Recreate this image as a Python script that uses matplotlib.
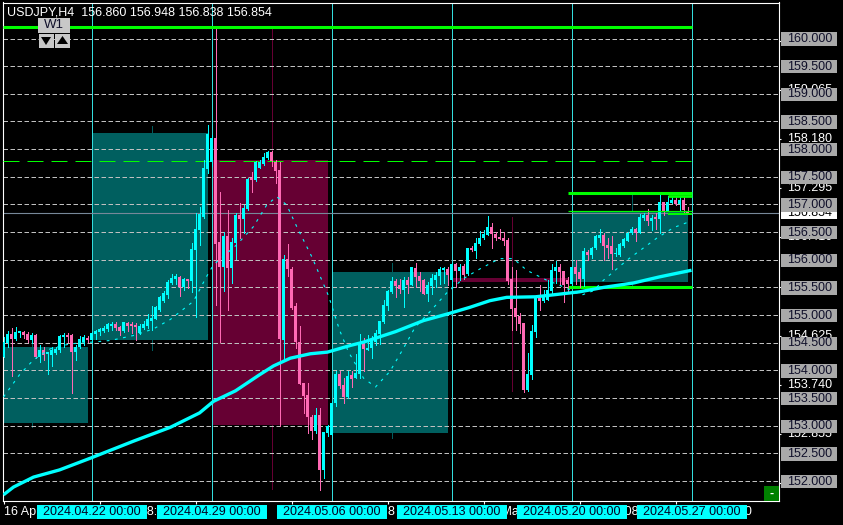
import matplotlib
matplotlib.use("Agg")
import matplotlib.pyplot as plt
from matplotlib.patches import Rectangle, Polygon

plt.rcParams['font.family'] = ['Liberation Sans', 'DejaVu Sans']

# H4 candles, one row per bar
opens = [154.25,154.49,154.66,154.57,154.68,154.70,154.66,154.55,154.64,154.25,154.37,154.30,154.28,154.31,154.36,154.60,154.64,154.64,154.33,154.42,154.52,154.58,
         154.54,154.66,154.70,154.72,154.75,154.81,154.83,154.78,154.72,154.86,154.82,154.80,154.67,154.77,154.81,154.89,154.93,155.10,155.25,155.37,155.58,155.66,155.69,155.50,155.65,155.61,156.17,156.54,156.78,157.64,
         157.76,158.20,156.32,155.87,156.43,155.85,156.31,156.81,156.73,156.92,157.46,157.44,157.66,157.73,157.84,157.94,157.77,157.62,154.55,156.02,155.84,155.16,154.52,153.77,153.56,153.16,152.91,153.20,152.19,152.87,
         152.84,153.41,153.93,153.74,153.51,153.92,153.86,153.93,154.49,154.37,154.40,154.52,154.66,154.88,155.16,155.42,155.61,155.54,155.45,155.63,155.55,155.85,155.70,155.63,155.38,155.52,155.64,155.70,155.82,155.83,
         155.63,155.93,155.80,155.89,155.74,156.22,156.16,156.28,156.39,156.45,156.60,156.47,156.41,156.39,156.36,155.65,155.12,154.99,154.85,153.64,153.92,154.69,155.33,155.25,155.27,155.44,155.80,155.86,155.79,155.63,
         155.57,155.86,155.78,155.66,156.14,156.08,156.22,156.40,156.45,156.27,156.25,156.10,156.08,156.25,156.34,156.48,156.55,156.48,156.76,156.81,156.70,156.75,156.73,157.04,156.89,157.03,157.08,157.01,157.08,156.860]
highs = [154.60,154.72,154.77,154.78,154.72,154.72,154.69,154.68,154.65,154.45,154.42,154.34,154.42,154.42,154.64,154.67,154.67,154.65,154.46,154.63,154.64,154.63,
         154.69,154.73,154.77,154.80,154.86,154.87,154.87,154.81,154.88,154.88,154.88,154.86,154.83,154.89,155.01,155.17,155.17,155.35,155.43,155.63,155.74,155.74,155.70,155.67,155.66,156.30,156.84,156.95,157.80,158.43,
         158.25,160.17,157.23,156.51,156.90,156.39,156.84,157.02,156.99,157.47,157.59,157.78,157.80,157.93,157.97,157.97,157.81,157.76,156.08,156.28,155.87,155.22,154.80,153.78,153.77,153.20,153.32,153.32,152.89,153.02,
         153.44,153.99,153.99,153.86,153.98,153.98,154.30,154.66,154.58,154.64,154.62,154.73,154.90,155.27,155.45,155.68,155.66,155.66,155.68,155.69,155.87,155.95,155.78,155.66,155.60,155.75,155.78,155.87,155.87,155.87,
         155.95,155.95,155.93,155.92,156.22,156.25,156.39,156.52,156.54,156.79,156.66,156.51,156.55,156.51,156.39,155.87,155.81,155.03,154.85,154.31,154.82,155.33,155.54,155.45,155.63,155.93,155.98,155.93,155.80,155.68,
         155.87,155.99,155.85,156.22,156.17,156.23,156.45,156.55,156.49,156.39,156.43,156.22,156.30,156.39,156.51,156.60,156.57,156.83,156.84,156.91,156.81,156.84,157.17,157.05,157.15,157.15,157.14,157.14,157.14,156.948]
lows = [154.25,154.42,153.89,154.55,154.60,154.58,154.52,154.49,154.22,154.16,154.19,153.94,154.07,154.30,154.34,154.42,154.52,153.59,154.19,154.40,154.45,154.52,
        154.52,154.57,154.64,154.69,154.72,154.73,154.73,154.64,154.70,154.72,154.68,154.54,154.66,154.75,154.77,154.73,154.92,155.08,155.23,155.31,155.57,155.57,155.35,155.46,155.49,155.42,154.96,156.27,156.75,157.57,
        157.70,155.19,154.51,155.43,155.10,155.58,156.02,156.39,156.48,156.90,157.23,157.43,157.65,157.71,157.83,157.70,157.38,153.00,154.20,155.70,155.11,154.40,153.76,153.23,152.87,152.75,152.87,151.84,152.05,152.81,
        152.84,153.35,153.68,153.41,153.50,153.70,153.86,153.86,153.98,154.37,154.22,154.46,154.48,154.85,155.10,155.39,155.33,155.39,155.15,155.40,155.54,155.51,155.44,155.38,155.25,155.38,155.50,155.57,155.58,155.54,
        155.50,155.50,155.63,155.66,155.73,156.16,156.04,156.27,156.37,156.45,156.22,156.36,156.37,156.27,155.57,154.73,154.73,154.68,153.60,153.63,153.84,154.61,155.09,155.24,155.27,155.39,155.58,155.54,155.24,155.42,
        155.54,155.57,155.51,155.52,156.00,156.04,156.20,156.32,156.00,156.04,155.84,156.07,156.07,156.23,156.33,156.46,156.34,156.48,156.72,156.63,156.54,156.55,156.49,156.81,156.88,157.02,156.99,156.90,156.85,156.838]
closes = [154.51,154.66,154.57,154.70,154.70,154.64,154.55,154.64,154.25,154.37,154.28,154.31,154.37,154.39,154.62,154.64,154.60,154.33,154.42,154.57,154.60,154.55,
          154.67,154.72,154.75,154.77,154.83,154.84,154.77,154.72,154.87,154.81,154.81,154.79,154.81,154.84,154.92,154.95,155.14,155.32,155.40,155.60,155.67,155.70,155.50,155.66,155.61,156.20,156.55,156.83,157.66,158.28,
          158.20,156.28,155.87,156.43,155.85,156.32,156.81,156.73,156.94,157.46,157.45,157.76,157.76,157.85,157.94,157.78,157.60,154.57,156.02,155.84,155.13,154.52,153.76,153.54,153.16,152.91,153.20,152.19,152.89,153.00,
          153.41,153.93,153.72,153.51,153.90,153.84,153.95,154.49,154.39,154.41,154.55,154.68,154.90,155.18,155.44,155.61,155.52,155.47,155.63,155.55,155.86,155.69,155.61,155.38,155.54,155.67,155.72,155.83,155.83,155.73,
          155.93,155.80,155.87,155.73,156.22,156.17,156.30,156.40,156.46,156.60,156.46,156.39,156.37,156.34,155.62,155.11,154.97,154.84,153.64,153.93,154.71,155.30,155.26,155.36,155.45,155.81,155.86,155.78,155.54,155.57,
          155.86,155.75,155.66,156.15,156.08,156.22,156.43,156.45,156.25,156.22,156.11,156.13,156.28,156.37,156.49,156.55,156.49,156.77,156.81,156.70,156.75,156.74,157.04,156.88,157.04,157.08,157.01,157.08,156.90,156.854]

# W1 candles behind the H4 ones
week_start = [-8, 22, 52, 82, 112, 142]
week_open = [153.05, 154.55, 157.80, 152.87, 155.67, 155.60]
week_close = [154.43, 158.29, 153.01, 155.77, 155.60, 156.86]
week_high = [154.62, 158.42, 160.17, 155.94, 156.78, 157.17]
week_low = [152.98, 154.37, 151.86, 152.77, 153.62, 155.50]

# moving averages, sampled by bar
ma_bars = [0,2.5,7.5,14,22,32.5,41.7,49,52.5,58,64,67.5,71.7,76.7,81,86.7,90,98,105,111,116.6,121.6,125.8,133,138,144,150,157.5,164,172]
ma_vals = [151.75,151.89,152.07,152.20,152.42,152.72,152.97,153.23,153.44,153.63,153.92,154.08,154.22,154.30,154.33,154.45,154.51,154.70,154.90,155.02,155.14,155.26,155.32,155.33,155.37,155.42,155.50,155.58,155.69,155.81]
fast_bars = [0,4,7.5,11.7,16.7,22,26.7,32.5,37.5,41.7,47.5,50.8,52.5,58.3,62.5,65.8,68.3,70.8,73.3,77.1,81.3,84,86.2,90,93,96.6,100,102.9,106.6,110.8,115,119,124,127.5,130.8,135.8,139,144.5,147.5,150,156,163.3,167.5,170.8]
fast_vals = [153.52,153.92,154.19,154.39,154.48,154.51,154.54,154.63,154.75,154.92,155.25,155.70,155.91,156.27,156.60,156.99,157.14,156.99,156.60,156.05,155.34,154.73,154.34,153.86,153.70,153.98,154.40,154.78,155.06,155.40,155.66,155.83,156.02,156.02,155.81,155.63,155.54,155.36,155.44,155.63,156.00,156.39,156.58,156.67]

grid_levels = [160.0,159.5,159.0,158.5,158.0,157.5,157.0,156.5,156.0,155.5,155.0,154.5,154.0,153.5,153.0,152.5,152.0]
scale_ticks = [159.950,159.065,158.180,157.295,156.410,155.510,154.625,153.740,152.855,151.970]
bid = 156.854

sep_bars = [22, 52, 82, 112, 142, 172]
sep_labels = ["2024.04.22 00:00","2024.04.29 00:00","2024.05.06 00:00","2024.05.13 00:00","2024.05.20 00:00","2024.05.27 00:00"]
time_bars = [0, 24, 48, 72, 96, 120, 144, 168]
time_labels = ["16 Apr 2024","22 Apr 08:00","26 Apr 08:00","2 May 08:00","8 May 08:00","14 May 08:00","20 May 08:00","24 May 08:00"]

UP = "#00FFFF"
DOWN = "#FF69B4"
TEAL = "#005F5F"
WINE = "#660033"
GREEN = "#00FF00"
THIN = 0.6  # non antialiased, comes out one pixel wide
W, H = 843, 525

fig = plt.figure(figsize=(W / 100, H / 100), dpi=100, facecolor="black")
L, R, T, B = 2.7, 779.0, 2.5, 501.0
ax = fig.add_axes([L / W, 1 - B / H, (R - L) / W, (B - T) / H], facecolor="black")
ax.set_xlim(-0.2, 193.875)
ax.set_ylim(151.638, 160.651)

def ax_x(px):
    return (px - L) / (R - L)

def ax_y(px):
    return (B - px) / (B - T)

def fig_xy(x, y):
    return x / W, 1 - y / H

# weekly boxes
for s, o, c, h, l in zip(week_start, week_open, week_close, week_high, week_low):
    col = TEAL if c > o else WINE
    ax.add_patch(Rectangle((s, min(o, c)), 29, abs(c - o), facecolor=col, edgecolor="none", zorder=1))
    ax.vlines(s + 15, l, h, color=col, lw=THIN, zorder=1, antialiased=False)

# grid
ax.hlines(grid_levels, -0.2, 193.875, color="#C0C0C0", lw=0.72, linestyles=(0, (4.5, 2.5)), zorder=2)
ax.vlines(sep_bars, 151.638, 160.651, color="#33DDDD", lw=THIN, zorder=2, antialiased=False)
ax.axhline(bid, color="#778899", lw=0.8, zorder=2)

# levels
ax.hlines(160.2, -0.2, 172, color=GREEN, lw=2.2, zorder=3)
ax.hlines(157.79, -0.2, 172, color=GREEN, lw=0.72, linestyles=(0, (16, 8)), zorder=3)
ax.hlines(157.2, 141, 172, color=GREEN, lw=2.2, zorder=6)
ax.hlines(156.89, 141, 172, color=GREEN, lw=0.9, zorder=6)
ax.hlines(155.5, 141, 172, color=GREEN, lw=2.2, zorder=3)
ax.hlines(157.15, 166, 172, color=GREEN, lw=2.0, zorder=6)
ax.hlines(156.83, 166, 172, color=GREEN, lw=1.4, zorder=6)

# candles
for i, (o, h, l, c) in enumerate(zip(opens, highs, lows, closes)):
    col = UP if c >= o else DOWN
    ax.vlines(i, l, h, color=col, lw=THIN, zorder=4, antialiased=False)
    ax.bar(i, max(abs(c - o), 0.025), bottom=min(o, c), width=0.8, color=col, linewidth=0, zorder=4, antialiased=False)

ax.plot(fast_bars, fast_vals, color=UP, lw=0.8, linestyle=(0, (2.5, 5)), zorder=5)
ax.plot(ma_bars, ma_vals, color=UP, lw=2.4, zorder=5, solid_capstyle="butt")

# frame and ticks
for sp in ax.spines.values():
    sp.set_color("white")
    sp.set_linewidth(0.8)
ax.yaxis.tick_right()
ax.set_yticks(scale_ticks)
ax.set_yticklabels([])
ax.set_xticks(time_bars)
ax.set_xticklabels([])
ax.tick_params(axis="y", colors="white", length=1.5, width=0.8)
ax.tick_params(axis="x", colors="white", length=2.5, width=0.8)

# price scale
ytr = ax.get_yaxis_transform()
for p in scale_ticks:
    ax.text(ax_x(787), p, f"{p:.3f}", transform=ytr, color="white", fontsize=9, va="center", ha="left", clip_on=False, zorder=10)
box_h = 13.4 / 55.31
ax.add_patch(Rectangle((ax_x(781), bid - box_h / 2), ax_x(837) - ax_x(781), box_h, transform=ytr, facecolor="white", edgecolor="none", clip_on=False, zorder=11))
ax.text(ax_x(787), bid, f"{bid:.3f}", transform=ytr, color="black", fontsize=9, va="center", ha="left", clip_on=False, zorder=12)
for p in grid_levels:
    ax.add_patch(Rectangle((ax_x(781), p - box_h / 2 - 0.01), ax_x(837) - ax_x(781), box_h, transform=ytr, facecolor="#A9A9A9", edgecolor="none", clip_on=False, zorder=13))
    ax.text(ax_x(787), p - 0.012, f"{p:.3f}", transform=ytr, color="#10102A", fontsize=9, va="center", ha="left", clip_on=False, zorder=14)

# time scale
xtr = ax.get_xaxis_transform()
for b, t in zip(time_bars, time_labels):
    ax.text(b + 0.1, ax_y(512), t, transform=xtr, color="white", fontsize=9, va="center", ha="left", clip_on=False, zorder=10)
for b, t in zip(sep_bars, sep_labels):
    ax.add_patch(Rectangle((b - 13.75, ax_y(519)), 27.5, ax_y(505) - ax_y(519), transform=xtr, facecolor=UP, edgecolor="none", clip_on=False, zorder=11))
    ax.text(b, ax_y(512), t, transform=xtr, color="#000020", fontsize=9, va="center", ha="center", clip_on=False, zorder=12)

# header
fig.text(*fig_xy(7, 12.7), "USDJPY,H4  156.860 156.948 156.838 156.854", color="white", fontsize=9, va="center", ha="left")

# chart buttons
def button(x0, y0, x1, y1, col):
    x, y = fig_xy(x0, y1)
    w, h = (x1 - x0) / W, (y1 - y0) / H
    fig.add_artist(Rectangle((x, y), w, h, transform=fig.transFigure, facecolor=col, edgecolor="none", zorder=20))

button(38, 18, 70, 33, "#C8C8C8")
button(39, 34, 54, 48, "#C8C8C8")
button(55, 34, 70, 48, "#C8C8C8")
fig.text(*fig_xy(54, 25.5), "W1", color="#10102A", fontsize=9.5, va="center", ha="center", zorder=21)
fig.add_artist(Polygon([fig_xy(41, 37), fig_xy(51, 37), fig_xy(46, 45)], transform=fig.transFigure, facecolor="black", edgecolor="none", zorder=21))
fig.add_artist(Polygon([fig_xy(57, 44), fig_xy(68, 44), fig_xy(62.5, 36)], transform=fig.transFigure, facecolor="black", edgecolor="none", zorder=21))
button(764, 486, 779, 501, "#008000")
fig.text(*fig_xy(771.5, 494), "-", color="white", fontsize=9, fontweight="bold", va="center", ha="center", zorder=21)

fig.savefig("out.png", dpi=100, facecolor="black")
